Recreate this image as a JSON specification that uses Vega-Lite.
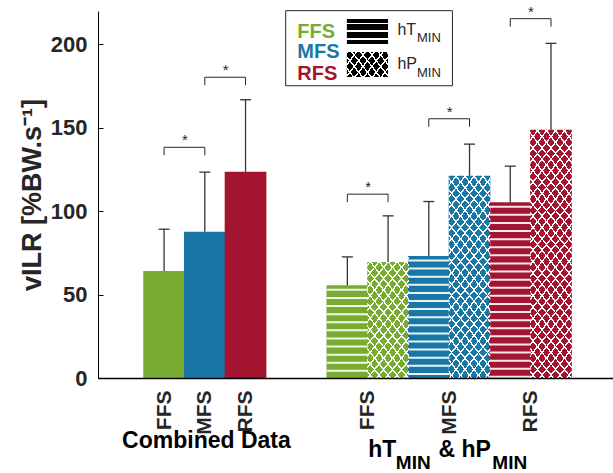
{
"$schema": "https://vega.github.io/schema/vega-lite/v6.json",
"width": 515, "height": 367,
"autosize": {"type": "none"},
"padding": {"left": 98, "top": 11, "right": 0, "bottom": 95},
"background": "white",
"config": {"view": {"stroke": null}, "font": "Liberation Sans"},
"datasets": {
"bars": [
{"group": "Combined Data", "cond": "all", "strike": "FFS", "pos": 1, "mean": 64.2, "upper": 89.2},
{"group": "Combined Data", "cond": "all", "strike": "MFS", "pos": 2, "mean": 87.6, "upper": 123.4},
{"group": "Combined Data", "cond": "all", "strike": "RFS", "pos": 3, "mean": 123.6, "upper": 166.8},
{"group": "hT & hP", "cond": "hT", "strike": "FFS", "pos": 5.5, "mean": 55.6, "upper": 72.6},
{"group": "hT & hP", "cond": "hP", "strike": "FFS", "pos": 6.5, "mean": 69.6, "upper": 97.2},
{"group": "hT & hP", "cond": "hT", "strike": "MFS", "pos": 7.5, "mean": 73.2, "upper": 105.8},
{"group": "hT & hP", "cond": "hP", "strike": "MFS", "pos": 8.5, "mean": 121.2, "upper": 140.2},
{"group": "hT & hP", "cond": "hT", "strike": "RFS", "pos": 9.5, "mean": 105.4, "upper": 127.0},
{"group": "hT & hP", "cond": "hP", "strike": "RFS", "pos": 10.5, "mean": 148.8, "upper": 200.6}
],
"sig": [
{"a": 1, "b": 2, "level": 138.3},
{"a": 2, "b": 3, "level": 180.3},
{"a": 5.5, "b": 6.5, "level": 110.2},
{"a": 7.5, "b": 8.5, "level": 155.4},
{"a": 9.5, "b": 10.5, "level": 215.4}
],
"one": [{}]
},
"data": {"name": "bars"},
"layer": [
{
"mark": {"type": "bar", "width": 41.7},
"encoding": {
"x": {"field": "pos", "type": "quantitative", "scale": {"domain": [-0.5, 11.9], "nice": false, "zero": false},
"axis": {"values": [1, 2, 3, 6, 8, 10], "labelExpr": "datum.value == 1 || datum.value == 6 ? 'FFS' : (datum.value == 2 || datum.value == 8 ? 'MFS' : 'RFS')", "labelAngle": -90, "labelAlign": "right", "labelBaseline": "middle", "labelFontSize": 21, "labelFontWeight": "bold", "labelColor": "#262626", "labelPadding": 12, "ticks": false, "domainColor": "#000000", "domainWidth": 1.3, "grid": false, "title": null, "zindex": 1, "labelFlush": false, "labelOverlap": false, "labelBound": false}},
"y": {"field": "mean", "type": "quantitative", "stack": null, "scale": {"domain": [0, 220], "nice": false},
"axis": {"values": [0, 50, 100, 150, 200], "tickSize": -5, "tickColor": "#000000", "domainColor": "#000000", "labelFontSize": 22, "labelFontWeight": "bold", "labelColor": "#262626", "labelPadding": 16, "title": "vILR [%BW.s⁻¹]", "titleFontSize": 27, "titleFontWeight": "bold", "titleColor": "#262626", "titlePadding": 4, "grid": false, "zindex": 1}},
"color": {"field": "strike", "type": "nominal", "scale": {"domain": ["FFS", "MFS", "RFS"], "range": ["#77AC30", "#1A77A5", "#A2142F"]}, "legend": null}
}
},
{
"transform": [{"filter": "datum.cond == 'hT'"}],
"mark": {"type": "rule", "stroke": "#ffffff", "strokeWidth": 41.5, "strokeDash": [2, 6.1], "strokeDashOffset": 4.5, "strokeCap": "butt", "opacity": 0.9},
"encoding": {"x": {"field": "pos", "type": "quantitative"}, "y": {"field": "mean", "type": "quantitative"}, "y2": {"datum": 0}}
},
{
"transform": [{"filter": "datum.cond == 'hP'"}],
"mark": {"type": "bar", "width": 41.7, "fill": {"gradient": "linear", "x1": 0, "y1": 0, "x2": 0.2444, "y2": 1.1593, "stops": [
{"offset":0,"color":"#fff"},{"offset":0.007,"color":"#fff"},{"offset":0.007,"color":"rgba(255,255,255,0)"},
{"offset":0.0375,"color":"rgba(255,255,255,0)"},{"offset":0.0375,"color":"#fff"},{"offset":0.0445,"color":"#fff"},{"offset":0.0445,"color":"rgba(255,255,255,0)"},
{"offset":0.075,"color":"rgba(255,255,255,0)"},{"offset":0.075,"color":"#fff"},{"offset":0.082,"color":"#fff"},{"offset":0.082,"color":"rgba(255,255,255,0)"},
{"offset":0.1125,"color":"rgba(255,255,255,0)"},{"offset":0.1125,"color":"#fff"},{"offset":0.1195,"color":"#fff"},{"offset":0.1195,"color":"rgba(255,255,255,0)"},
{"offset":0.15,"color":"rgba(255,255,255,0)"},{"offset":0.15,"color":"#fff"},{"offset":0.157,"color":"#fff"},{"offset":0.157,"color":"rgba(255,255,255,0)"},
{"offset":0.1875,"color":"rgba(255,255,255,0)"},{"offset":0.1875,"color":"#fff"},{"offset":0.1945,"color":"#fff"},{"offset":0.1945,"color":"rgba(255,255,255,0)"},
{"offset":0.225,"color":"rgba(255,255,255,0)"},{"offset":0.225,"color":"#fff"},{"offset":0.232,"color":"#fff"},{"offset":0.232,"color":"rgba(255,255,255,0)"},
{"offset":0.2625,"color":"rgba(255,255,255,0)"},{"offset":0.2625,"color":"#fff"},{"offset":0.2695,"color":"#fff"},{"offset":0.2695,"color":"rgba(255,255,255,0)"},
{"offset":0.3,"color":"rgba(255,255,255,0)"},{"offset":0.3,"color":"#fff"},{"offset":0.307,"color":"#fff"},{"offset":0.307,"color":"rgba(255,255,255,0)"},
{"offset":0.3375,"color":"rgba(255,255,255,0)"},{"offset":0.3375,"color":"#fff"},{"offset":0.3445,"color":"#fff"},{"offset":0.3445,"color":"rgba(255,255,255,0)"},
{"offset":0.375,"color":"rgba(255,255,255,0)"},{"offset":0.375,"color":"#fff"},{"offset":0.382,"color":"#fff"},{"offset":0.382,"color":"rgba(255,255,255,0)"},
{"offset":0.4125,"color":"rgba(255,255,255,0)"},{"offset":0.4125,"color":"#fff"},{"offset":0.4195,"color":"#fff"},{"offset":0.4195,"color":"rgba(255,255,255,0)"},
{"offset":0.45,"color":"rgba(255,255,255,0)"},{"offset":0.45,"color":"#fff"},{"offset":0.457,"color":"#fff"},{"offset":0.457,"color":"rgba(255,255,255,0)"},
{"offset":0.4875,"color":"rgba(255,255,255,0)"},{"offset":0.4875,"color":"#fff"},{"offset":0.4945,"color":"#fff"},{"offset":0.4945,"color":"rgba(255,255,255,0)"},
{"offset":0.525,"color":"rgba(255,255,255,0)"},{"offset":0.525,"color":"#fff"},{"offset":0.532,"color":"#fff"},{"offset":0.532,"color":"rgba(255,255,255,0)"},
{"offset":0.5625,"color":"rgba(255,255,255,0)"},{"offset":0.5625,"color":"#fff"},{"offset":0.5695,"color":"#fff"},{"offset":0.5695,"color":"rgba(255,255,255,0)"},
{"offset":0.6,"color":"rgba(255,255,255,0)"},{"offset":0.6,"color":"#fff"},{"offset":0.607,"color":"#fff"},{"offset":0.607,"color":"rgba(255,255,255,0)"},
{"offset":0.6375,"color":"rgba(255,255,255,0)"},{"offset":0.6375,"color":"#fff"},{"offset":0.6445,"color":"#fff"},{"offset":0.6445,"color":"rgba(255,255,255,0)"},
{"offset":0.675,"color":"rgba(255,255,255,0)"},{"offset":0.675,"color":"#fff"},{"offset":0.682,"color":"#fff"},{"offset":0.682,"color":"rgba(255,255,255,0)"},
{"offset":0.7125,"color":"rgba(255,255,255,0)"},{"offset":0.7125,"color":"#fff"},{"offset":0.7195,"color":"#fff"},{"offset":0.7195,"color":"rgba(255,255,255,0)"},
{"offset":0.75,"color":"rgba(255,255,255,0)"},{"offset":0.75,"color":"#fff"},{"offset":0.757,"color":"#fff"},{"offset":0.757,"color":"rgba(255,255,255,0)"},
{"offset":0.7875,"color":"rgba(255,255,255,0)"},{"offset":0.7875,"color":"#fff"},{"offset":0.7945,"color":"#fff"},{"offset":0.7945,"color":"rgba(255,255,255,0)"},
{"offset":0.825,"color":"rgba(255,255,255,0)"},{"offset":0.825,"color":"#fff"},{"offset":0.832,"color":"#fff"},{"offset":0.832,"color":"rgba(255,255,255,0)"},
{"offset":0.8625,"color":"rgba(255,255,255,0)"},{"offset":0.8625,"color":"#fff"},{"offset":0.8695,"color":"#fff"},{"offset":0.8695,"color":"rgba(255,255,255,0)"},
{"offset":0.9,"color":"rgba(255,255,255,0)"},{"offset":0.9,"color":"#fff"},{"offset":0.907,"color":"#fff"},{"offset":0.907,"color":"rgba(255,255,255,0)"},
{"offset":0.9375,"color":"rgba(255,255,255,0)"},{"offset":0.9375,"color":"#fff"},{"offset":0.9445,"color":"#fff"},{"offset":0.9445,"color":"rgba(255,255,255,0)"},
{"offset":0.975,"color":"rgba(255,255,255,0)"},{"offset":0.975,"color":"#fff"},{"offset":0.982,"color":"#fff"},{"offset":0.982,"color":"rgba(255,255,255,0)"}
]}},
"encoding": {"x": {"field": "pos", "type": "quantitative"}, "y": {"datum": 150, "type": "quantitative"}, "y2": {"datum": 0}}
},
{
"transform": [{"filter": "datum.cond == 'hP'"}],
"mark": {"type": "bar", "width": 41.7, "fill": {"gradient": "linear", "x1": 1, "y1": 0, "x2": 0.7556, "y2": 1.1593, "stops": [
{"offset":0,"color":"#fff"},{"offset":0.007,"color":"#fff"},{"offset":0.007,"color":"rgba(255,255,255,0)"},
{"offset":0.0375,"color":"rgba(255,255,255,0)"},{"offset":0.0375,"color":"#fff"},{"offset":0.0445,"color":"#fff"},{"offset":0.0445,"color":"rgba(255,255,255,0)"},
{"offset":0.075,"color":"rgba(255,255,255,0)"},{"offset":0.075,"color":"#fff"},{"offset":0.082,"color":"#fff"},{"offset":0.082,"color":"rgba(255,255,255,0)"},
{"offset":0.1125,"color":"rgba(255,255,255,0)"},{"offset":0.1125,"color":"#fff"},{"offset":0.1195,"color":"#fff"},{"offset":0.1195,"color":"rgba(255,255,255,0)"},
{"offset":0.15,"color":"rgba(255,255,255,0)"},{"offset":0.15,"color":"#fff"},{"offset":0.157,"color":"#fff"},{"offset":0.157,"color":"rgba(255,255,255,0)"},
{"offset":0.1875,"color":"rgba(255,255,255,0)"},{"offset":0.1875,"color":"#fff"},{"offset":0.1945,"color":"#fff"},{"offset":0.1945,"color":"rgba(255,255,255,0)"},
{"offset":0.225,"color":"rgba(255,255,255,0)"},{"offset":0.225,"color":"#fff"},{"offset":0.232,"color":"#fff"},{"offset":0.232,"color":"rgba(255,255,255,0)"},
{"offset":0.2625,"color":"rgba(255,255,255,0)"},{"offset":0.2625,"color":"#fff"},{"offset":0.2695,"color":"#fff"},{"offset":0.2695,"color":"rgba(255,255,255,0)"},
{"offset":0.3,"color":"rgba(255,255,255,0)"},{"offset":0.3,"color":"#fff"},{"offset":0.307,"color":"#fff"},{"offset":0.307,"color":"rgba(255,255,255,0)"},
{"offset":0.3375,"color":"rgba(255,255,255,0)"},{"offset":0.3375,"color":"#fff"},{"offset":0.3445,"color":"#fff"},{"offset":0.3445,"color":"rgba(255,255,255,0)"},
{"offset":0.375,"color":"rgba(255,255,255,0)"},{"offset":0.375,"color":"#fff"},{"offset":0.382,"color":"#fff"},{"offset":0.382,"color":"rgba(255,255,255,0)"},
{"offset":0.4125,"color":"rgba(255,255,255,0)"},{"offset":0.4125,"color":"#fff"},{"offset":0.4195,"color":"#fff"},{"offset":0.4195,"color":"rgba(255,255,255,0)"},
{"offset":0.45,"color":"rgba(255,255,255,0)"},{"offset":0.45,"color":"#fff"},{"offset":0.457,"color":"#fff"},{"offset":0.457,"color":"rgba(255,255,255,0)"},
{"offset":0.4875,"color":"rgba(255,255,255,0)"},{"offset":0.4875,"color":"#fff"},{"offset":0.4945,"color":"#fff"},{"offset":0.4945,"color":"rgba(255,255,255,0)"},
{"offset":0.525,"color":"rgba(255,255,255,0)"},{"offset":0.525,"color":"#fff"},{"offset":0.532,"color":"#fff"},{"offset":0.532,"color":"rgba(255,255,255,0)"},
{"offset":0.5625,"color":"rgba(255,255,255,0)"},{"offset":0.5625,"color":"#fff"},{"offset":0.5695,"color":"#fff"},{"offset":0.5695,"color":"rgba(255,255,255,0)"},
{"offset":0.6,"color":"rgba(255,255,255,0)"},{"offset":0.6,"color":"#fff"},{"offset":0.607,"color":"#fff"},{"offset":0.607,"color":"rgba(255,255,255,0)"},
{"offset":0.6375,"color":"rgba(255,255,255,0)"},{"offset":0.6375,"color":"#fff"},{"offset":0.6445,"color":"#fff"},{"offset":0.6445,"color":"rgba(255,255,255,0)"},
{"offset":0.675,"color":"rgba(255,255,255,0)"},{"offset":0.675,"color":"#fff"},{"offset":0.682,"color":"#fff"},{"offset":0.682,"color":"rgba(255,255,255,0)"},
{"offset":0.7125,"color":"rgba(255,255,255,0)"},{"offset":0.7125,"color":"#fff"},{"offset":0.7195,"color":"#fff"},{"offset":0.7195,"color":"rgba(255,255,255,0)"},
{"offset":0.75,"color":"rgba(255,255,255,0)"},{"offset":0.75,"color":"#fff"},{"offset":0.757,"color":"#fff"},{"offset":0.757,"color":"rgba(255,255,255,0)"},
{"offset":0.7875,"color":"rgba(255,255,255,0)"},{"offset":0.7875,"color":"#fff"},{"offset":0.7945,"color":"#fff"},{"offset":0.7945,"color":"rgba(255,255,255,0)"},
{"offset":0.825,"color":"rgba(255,255,255,0)"},{"offset":0.825,"color":"#fff"},{"offset":0.832,"color":"#fff"},{"offset":0.832,"color":"rgba(255,255,255,0)"},
{"offset":0.8625,"color":"rgba(255,255,255,0)"},{"offset":0.8625,"color":"#fff"},{"offset":0.8695,"color":"#fff"},{"offset":0.8695,"color":"rgba(255,255,255,0)"},
{"offset":0.9,"color":"rgba(255,255,255,0)"},{"offset":0.9,"color":"#fff"},{"offset":0.907,"color":"#fff"},{"offset":0.907,"color":"rgba(255,255,255,0)"},
{"offset":0.9375,"color":"rgba(255,255,255,0)"},{"offset":0.9375,"color":"#fff"},{"offset":0.9445,"color":"#fff"},{"offset":0.9445,"color":"rgba(255,255,255,0)"},
{"offset":0.975,"color":"rgba(255,255,255,0)"},{"offset":0.975,"color":"#fff"},{"offset":0.982,"color":"#fff"},{"offset":0.982,"color":"rgba(255,255,255,0)"}
]}},
"encoding": {"x": {"field": "pos", "type": "quantitative"}, "y": {"datum": 150, "type": "quantitative"}, "y2": {"datum": 0}}
},
{
"mark": {"type": "rule", "color": "#333333", "strokeWidth": 1.3},
"encoding": {"x": {"field": "pos", "type": "quantitative"}, "y": {"field": "mean", "type": "quantitative"}, "y2": {"field": "upper"}}
},
{
"mark": {"type": "tick", "orient": "horizontal", "size": 11, "thickness": 1.3, "color": "#333333", "opacity": 1},
"encoding": {"x": {"field": "pos", "type": "quantitative"}, "y": {"field": "upper", "type": "quantitative"}}
},
{
"data": {"name": "sig"},
"mark": {"type": "rule", "color": "#262626", "strokeWidth": 1},
"encoding": {"x": {"field": "a", "type": "quantitative"}, "x2": {"field": "b"}, "y": {"field": "level", "type": "quantitative"}}
},
{
"data": {"name": "sig"},
"mark": {"type": "rule", "color": "#262626", "strokeWidth": 1, "y2Offset": 8},
"encoding": {"x": {"field": "a", "type": "quantitative"}, "y": {"field": "level", "type": "quantitative"}, "y2": {"field": "level"}}
},
{
"data": {"name": "sig"},
"mark": {"type": "rule", "color": "#262626", "strokeWidth": 1, "y2Offset": 8},
"encoding": {"x": {"field": "b", "type": "quantitative"}, "y": {"field": "level", "type": "quantitative"}, "y2": {"field": "level"}}
},
{
"data": {"name": "sig"},
"mark": {"type": "text", "text": "*", "fontSize": 15, "color": "#262626", "align": "center", "baseline": "alphabetic", "dx": 20.77, "dy": -2},
"encoding": {"x": {"field": "a", "type": "quantitative"}, "y": {"field": "level", "type": "quantitative"}}
},
{
"data": {"name": "one"},
"mark": {"type": "rect", "fill": "#ffffff", "stroke": "#262626", "strokeWidth": 1},
"encoding": {"x": {"datum": 3.986, "type": "quantitative"}, "x2": {"datum": 8.08}, "y": {"datum": 220.2, "type": "quantitative"}, "y2": {"datum": 175.2}}
},
{
"data": {"name": "one"},
"mark": {"type": "text", "text": "FFS", "fontSize": 20, "fontWeight": "bold", "color": "#77AC30", "align": "left", "baseline": "alphabetic"},
"encoding": {"x": {"datum": 4.27, "type": "quantitative"}, "y": {"datum": 203.8, "type": "quantitative"}}
},
{
"data": {"name": "one"},
"mark": {"type": "text", "text": "MFS", "fontSize": 20, "fontWeight": "bold", "color": "#1A77A5", "align": "left", "baseline": "alphabetic"},
"encoding": {"x": {"datum": 4.27, "type": "quantitative"}, "y": {"datum": 191.6, "type": "quantitative"}}
},
{
"data": {"name": "one"},
"mark": {"type": "text", "text": "RFS", "fontSize": 20, "fontWeight": "bold", "color": "#A2142F", "align": "left", "baseline": "alphabetic"},
"encoding": {"x": {"datum": 4.27, "type": "quantitative"}, "y": {"datum": 178.8, "type": "quantitative"}}
},
{
"data": {"name": "one"},
"mark": {"type": "rect", "fill": {"gradient": "linear", "x1": 0, "y1": 0, "x2": 0, "y2": 1, "stops": [
{"offset":0,"color":"#000"},{"offset":0.14,"color":"#000"},{"offset":0.14,"color":"#fff"},{"offset":0.2,"color":"#fff"},{"offset":0.2,"color":"#000"},
{"offset":0.45,"color":"#000"},{"offset":0.45,"color":"#fff"},{"offset":0.51,"color":"#fff"},{"offset":0.51,"color":"#000"},
{"offset":0.77,"color":"#000"},{"offset":0.77,"color":"#fff"},{"offset":0.83,"color":"#fff"},{"offset":0.83,"color":"#000"},{"offset":1,"color":"#000"}]}},
"encoding": {"x": {"datum": 5.488, "type": "quantitative"}, "x2": {"datum": 6.499}, "y": {"datum": 215.2, "type": "quantitative"}, "y2": {"datum": 200.2}}
},
{
"data": {"name": "one"},
"mark": {"type": "rect", "fill": "#000000"},
"encoding": {"x": {"datum": 5.488, "type": "quantitative"}, "x2": {"datum": 6.499}, "y": {"datum": 195.4, "type": "quantitative"}, "y2": {"datum": 180.4}}
},
{
"data": {"name": "one"},
"mark": {"type": "rect", "fill": {"gradient": "linear", "x1": 0, "y1": 0, "x2": 1.2027, "y2": 0.564, "stops": [
{"offset":0,"color":"#fff"},{"offset":0.028,"color":"#fff"},{"offset":0.028,"color":"rgba(255,255,255,0)"},
{"offset":0.146,"color":"rgba(255,255,255,0)"},{"offset":0.146,"color":"#fff"},{"offset":0.174,"color":"#fff"},{"offset":0.174,"color":"rgba(255,255,255,0)"},
{"offset":0.292,"color":"rgba(255,255,255,0)"},{"offset":0.292,"color":"#fff"},{"offset":0.32,"color":"#fff"},{"offset":0.32,"color":"rgba(255,255,255,0)"},
{"offset":0.438,"color":"rgba(255,255,255,0)"},{"offset":0.438,"color":"#fff"},{"offset":0.466,"color":"#fff"},{"offset":0.466,"color":"rgba(255,255,255,0)"},
{"offset":0.584,"color":"rgba(255,255,255,0)"},{"offset":0.584,"color":"#fff"},{"offset":0.612,"color":"#fff"},{"offset":0.612,"color":"rgba(255,255,255,0)"},
{"offset":0.73,"color":"rgba(255,255,255,0)"},{"offset":0.73,"color":"#fff"},{"offset":0.758,"color":"#fff"},{"offset":0.758,"color":"rgba(255,255,255,0)"},
{"offset":0.876,"color":"rgba(255,255,255,0)"},{"offset":0.876,"color":"#fff"},{"offset":0.904,"color":"#fff"},{"offset":0.904,"color":"rgba(255,255,255,0)"}]}},
"encoding": {"x": {"datum": 5.488, "type": "quantitative"}, "x2": {"datum": 6.499}, "y": {"datum": 195.4, "type": "quantitative"}, "y2": {"datum": 180.4}}
},
{
"data": {"name": "one"},
"mark": {"type": "rect", "fill": {"gradient": "linear", "x1": 1, "y1": 0, "x2": -0.2027, "y2": 0.564, "stops": [
{"offset":0,"color":"#fff"},{"offset":0.028,"color":"#fff"},{"offset":0.028,"color":"rgba(255,255,255,0)"},
{"offset":0.146,"color":"rgba(255,255,255,0)"},{"offset":0.146,"color":"#fff"},{"offset":0.174,"color":"#fff"},{"offset":0.174,"color":"rgba(255,255,255,0)"},
{"offset":0.292,"color":"rgba(255,255,255,0)"},{"offset":0.292,"color":"#fff"},{"offset":0.32,"color":"#fff"},{"offset":0.32,"color":"rgba(255,255,255,0)"},
{"offset":0.438,"color":"rgba(255,255,255,0)"},{"offset":0.438,"color":"#fff"},{"offset":0.466,"color":"#fff"},{"offset":0.466,"color":"rgba(255,255,255,0)"},
{"offset":0.584,"color":"rgba(255,255,255,0)"},{"offset":0.584,"color":"#fff"},{"offset":0.612,"color":"#fff"},{"offset":0.612,"color":"rgba(255,255,255,0)"},
{"offset":0.73,"color":"rgba(255,255,255,0)"},{"offset":0.73,"color":"#fff"},{"offset":0.758,"color":"#fff"},{"offset":0.758,"color":"rgba(255,255,255,0)"},
{"offset":0.876,"color":"rgba(255,255,255,0)"},{"offset":0.876,"color":"#fff"},{"offset":0.904,"color":"#fff"},{"offset":0.904,"color":"rgba(255,255,255,0)"}]}},
"encoding": {"x": {"datum": 5.488, "type": "quantitative"}, "x2": {"datum": 6.499}, "y": {"datum": 195.4, "type": "quantitative"}, "y2": {"datum": 180.4}}
},
{
"data": {"name": "one"},
"mark": {"type": "text", "text": "hT", "fontSize": 16, "color": "#262626", "align": "left", "baseline": "alphabetic"},
"encoding": {"x": {"datum": 6.73, "type": "quantitative"}, "y": {"datum": 205.6, "type": "quantitative"}}
},
{
"data": {"name": "one"},
"mark": {"type": "text", "text": "MIN", "fontSize": 13, "color": "#262626", "align": "left", "baseline": "alphabetic"},
"encoding": {"x": {"datum": 7.21, "type": "quantitative"}, "y": {"datum": 201.3, "type": "quantitative"}}
},
{
"data": {"name": "one"},
"mark": {"type": "text", "text": "hP", "fontSize": 16, "color": "#262626", "align": "left", "baseline": "alphabetic"},
"encoding": {"x": {"datum": 6.73, "type": "quantitative"}, "y": {"datum": 185.3, "type": "quantitative"}}
},
{
"data": {"name": "one"},
"mark": {"type": "text", "text": "MIN", "fontSize": 13, "color": "#262626", "align": "left", "baseline": "alphabetic"},
"encoding": {"x": {"datum": 7.21, "type": "quantitative"}, "y": {"datum": 180.6, "type": "quantitative"}}
},
{
"data": {"name": "one"},
"mark": {"type": "text", "text": "Combined Data", "fontSize": 23, "fontWeight": "bold", "color": "#000000", "align": "center", "baseline": "middle"},
"encoding": {"x": {"datum": 2.04, "type": "quantitative"}, "y": {"datum": -37.8, "type": "quantitative"}}
},
{
"data": {"name": "one"},
"mark": {"type": "text", "text": "hT", "fontSize": 23, "fontWeight": "bold", "color": "#000000", "align": "left", "baseline": "alphabetic"},
"encoding": {"x": {"datum": 6.01, "type": "quantitative"}, "y": {"datum": -47.6, "type": "quantitative"}}
},
{
"data": {"name": "one"},
"mark": {"type": "text", "text": "MIN", "fontSize": 19, "fontWeight": "bold", "color": "#000000", "align": "left", "baseline": "alphabetic"},
"encoding": {"x": {"datum": 6.69, "type": "quantitative"}, "y": {"datum": -54.4, "type": "quantitative"}}
},
{
"data": {"name": "one"},
"mark": {"type": "text", "text": "& hP", "fontSize": 23, "fontWeight": "bold", "color": "#000000", "align": "left", "baseline": "alphabetic"},
"encoding": {"x": {"datum": 7.735, "type": "quantitative"}, "y": {"datum": -47.6, "type": "quantitative"}}
},
{
"data": {"name": "one"},
"mark": {"type": "text", "text": "MIN", "fontSize": 19, "fontWeight": "bold", "color": "#000000", "align": "left", "baseline": "alphabetic"},
"encoding": {"x": {"datum": 9.06, "type": "quantitative"}, "y": {"datum": -54.4, "type": "quantitative"}}
}
]
}
